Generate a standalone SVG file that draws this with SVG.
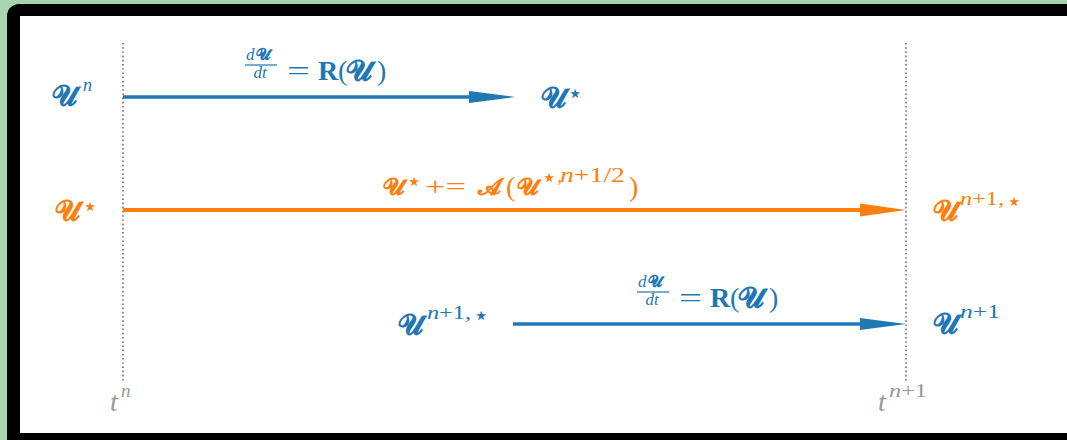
<svg xmlns="http://www.w3.org/2000/svg" width="1067" height="440" viewBox="0 0 1067 440">
<style>
text{font-family:"Liberation Serif","DejaVu Serif",serif;}
.s{font-family:"DejaVu Serif","Liberation Serif",serif;font-weight:bold;}
.st{font-family:"DejaVu Sans",sans-serif;font-size:26px;}
.i{font-style:italic;}
.b{fill:#1f77b4}
.o{fill:#ff7f0e}
.g{fill:#999999}
.grid{stroke:#8c8c8c;stroke-width:2;stroke-dasharray:1.6 2.6;fill:none}
.fb{stroke:#1f77b4;stroke-width:1.2}
</style>
<defs>
<marker id="ab" viewBox="0 0 46 14" refX="6" refY="7" markerWidth="46" markerHeight="14" markerUnits="userSpaceOnUse" orient="auto"><path d="M0,1 L46,7 L0,13 Z" fill="#1f77b4"/></marker>
<marker id="ao" viewBox="0 0 46 14" refX="6" refY="7" markerWidth="46" markerHeight="14" markerUnits="userSpaceOnUse" orient="auto"><path d="M0,0.5 L46,7 L0,13.5 Z" fill="#ff7f0e"/></marker>
</defs>
<rect x="0" y="0" width="1067" height="440" fill="#a8d5b0"/>
<rect x="7" y="4" width="1100" height="460" rx="12" fill="#000"/>
<rect x="20" y="16" width="1100" height="417" fill="#fff"/>
<g id="gridlines">
<line class="grid" x1="123" y1="43" x2="123" y2="382"/>
<line class="grid" x1="906" y1="43" x2="906" y2="382"/>
</g>
<g id="connectors">
<line x1="123" y1="97" x2="475" y2="97" stroke="#1f77b4" stroke-width="3.5" marker-end="url(#ab)"/>
<line x1="123" y1="210" x2="866" y2="210" stroke="#ff7f0e" stroke-width="4" marker-end="url(#ao)"/>
<line x1="513" y1="324" x2="866" y2="324" stroke="#1f77b4" stroke-width="3.5" marker-end="url(#ab)"/>
</g>
<g id="label1" class="b">
<text x="246" y="60" font-size="17" class="i b">d</text>
<text x="256" y="60" font-size="16" class="s b">𝓤</text>
<line class="fb" x1="245" y1="65" x2="277" y2="65"/>
<text x="260" y="78" font-size="17" class="i b" text-anchor="middle">dt</text>
<text x="287" y="80" font-size="28" class="b" textLength="23" lengthAdjust="spacingAndGlyphs">=</text>
<text x="318" y="80" font-size="28" class="b" font-weight="bold">R</text>
<text x="338" y="80" font-size="28" class="b">(</text>
<text x="346" y="80" font-size="29" class="s b">𝓤</text>
<text x="377" y="80" font-size="28" class="b">)</text>
</g>
<g id="label2" class="o">
<text x="383" y="195" font-size="24" class="s o">𝓤</text>
<text x="406" y="190" class="st o">⋆</text>
<text x="425" y="195" font-size="26" class="o" textLength="41" lengthAdjust="spacingAndGlyphs">+=</text>
<text x="478" y="195" font-size="24" class="s o">𝓐</text>
<text x="506" y="196" font-size="28" class="o">(</text>
<text x="517" y="195" font-size="24" class="s o">𝓤</text>
<text x="541" y="186" class="o"><tspan class="st" font-size="22">⋆</tspan><tspan font-size="19" dy="-4">,</tspan></text>
<text x="560" y="182" font-size="20" class="o" textLength="65" lengthAdjust="spacingAndGlyphs"><tspan class="i">n</tspan>+1/2</text>
<text x="629" y="196" font-size="28" class="o">)</text>
</g>
<g id="label3" class="b">
<text x="638" y="287" font-size="17" class="i b">d</text>
<text x="648" y="287" font-size="16" class="s b">𝓤</text>
<line class="fb" x1="637" y1="292" x2="669" y2="292"/>
<text x="652" y="305" font-size="17" class="i b" text-anchor="middle">dt</text>
<text x="679" y="307" font-size="28" class="b" textLength="23" lengthAdjust="spacingAndGlyphs">=</text>
<text x="710" y="307" font-size="28" class="b" font-weight="bold">R</text>
<text x="730" y="307" font-size="28" class="b">(</text>
<text x="738" y="307" font-size="29" class="s b">𝓤</text>
<text x="769" y="307" font-size="28" class="b">)</text>
</g>
<g id="node-Un"><text x="52" y="105" font-size="28" class="s b">𝓤</text><text x="83" y="91" font-size="18" class="i b">n</text></g>
<g id="node-Ustar1"><text x="541" y="107" font-size="28" class="s b">𝓤</text><text x="567" y="102" class="st b">⋆</text></g>
<g id="node-Ustar2"><text x="55" y="220" font-size="28" class="s o">𝓤</text><text x="82" y="215" class="st o">⋆</text></g>
<g id="node-Un1star2"><text x="933" y="220" font-size="28" class="s o">𝓤</text><text x="960" y="205" font-size="18" class="o" textLength="44" lengthAdjust="spacingAndGlyphs"><tspan class="i">n</tspan>+1,</text><text x="1006" y="210" class="st o" font-size="22">⋆</text></g>
<g id="node-Un1star3"><text x="398" y="334" font-size="28" class="s b">𝓤</text><text x="427" y="319" font-size="18" class="b" textLength="44" lengthAdjust="spacingAndGlyphs"><tspan class="i">n</tspan>+1,</text><text x="473" y="324" class="st b" font-size="22">⋆</text></g>
<g id="node-Un1"><text x="933" y="333" font-size="28" class="s b">𝓤</text><text x="960" y="318" font-size="18" class="b" textLength="40" lengthAdjust="spacingAndGlyphs"><tspan class="i">n</tspan>+1</text></g>
<g id="tick-tn"><text x="110" y="411" font-size="28" class="i g">t</text><text x="121" y="397" font-size="19" class="i g">n</text></g>
<g id="tick-tn1"><text x="878" y="411" font-size="28" class="i g">t</text><text x="889" y="397" font-size="19" class="g" textLength="38" lengthAdjust="spacingAndGlyphs"><tspan class="i">n</tspan>+1</text></g>
</svg>
